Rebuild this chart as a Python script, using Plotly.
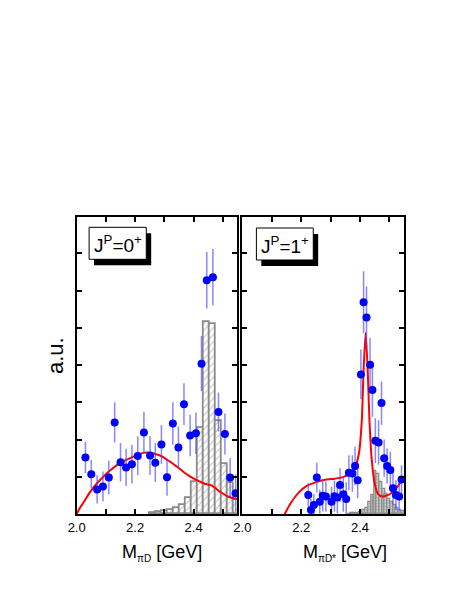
import plotly.graph_objects as go

W, H = 463, 599

# ---------------- data ----------------
left_x = [2.030, 2.050, 2.070, 2.090, 2.110, 2.130, 2.150, 2.169, 2.189, 2.209, 2.230, 2.251, 2.269,
          2.290, 2.309, 2.329, 2.348, 2.367, 2.388, 2.408, 2.427, 2.445, 2.466, 2.485, 2.507, 2.525, 2.544]
left_y = [1.52, 1.07, 0.66, 0.74, 0.98, 2.46, 1.39, 1.25, 1.34, 1.56, 2.19, 1.57, 1.38,
          1.87, 0.99, 2.43, 1.79, 2.95, 2.11, 2.17, 4.04, 6.28, 6.36, 2.74, 2.15, 0.98, 0.56]
left_err = [0.42, 0.38, 0.38, 0.40, 0.45, 0.54, 0.52, 0.50, 0.52, 0.52, 0.56, 0.52, 0.52,
            0.52, 0.50, 0.57, 0.56, 0.56, 0.56, 0.56, 0.74, 0.76, 0.76, 0.52, 0.55, 0.52, 0.50]

right_x = [2.224, 2.233, 2.243, 2.253, 2.263, 2.273, 2.284, 2.303, 2.313, 2.323, 2.332, 2.343, 2.353,
           2.362, 2.374, 2.383, 2.392, 2.403, 2.412, 2.422, 2.434, 2.442, 2.452, 2.463, 2.473, 2.482,
           2.492, 2.503, 2.512, 2.522, 2.533, 2.541]
right_y = [0.51, 0.11, 0.24, 0.98, 0.33, 0.49, 0.47, 0.33, 0.48, 0.44, 0.78, 0.53, 0.40,
           1.11, 1.09, 1.29, 0.91, 3.75, 5.69, 5.28, 4.01, 3.33, 1.97, 1.92, 2.98, 1.50,
           1.29, 1.18, 0.69, 0.51, 0.47, 0.93]
right_err = [0.32, 0.30, 0.30, 0.40, 0.32, 0.42, 0.40, 0.40, 0.42, 0.42, 0.45, 0.47, 0.45,
             0.47, 0.49, 0.52, 0.49, 0.67, 0.83, 0.83, 0.72, 0.72, 0.60, 0.60, 0.58, 0.50,
             0.47, 0.49, 0.45, 0.40, 0.40, 0.38]

left_hist_x = [2.261, 2.281, 2.302, 2.322, 2.343, 2.363, 2.384, 2.404, 2.425, 2.445, 2.466, 2.486,
               2.507, 2.527, 2.548]
left_hist_y = [0.035, 0.05, 0.08, 0.12, 0.16, 0.25, 0.43, 0.87, 2.32, 5.17, 5.10, 2.51, 1.34, 0.84, 0.38]
left_hist_w = 0.0205

right_hist_x = [2.363, 2.373, 2.382, 2.392, 2.403, 2.413, 2.423, 2.432, 2.442, 2.452, 2.462, 2.471,
                2.480, 2.489, 2.498, 2.508, 2.517, 2.526, 2.536, 2.547]
right_hist_y = [0.01, 0.015, 0.02, 0.03, 0.06, 0.10, 0.17, 0.31, 0.50, 1.16, 1.07, 0.85,
                0.67, 0.53, 0.40, 0.31, 0.23, 0.16, 0.12, 0.07]
right_hist_w = 0.0097

left_curve_x = [2.000, 2.010, 2.025, 2.047, 2.069, 2.091, 2.113, 2.147, 2.180, 2.213, 2.240, 2.283,
                2.317, 2.350, 2.383, 2.406, 2.430, 2.450, 2.461, 2.483, 2.517, 2.548]
left_curve_y = [0.00, 0.15, 0.33, 0.60, 0.82, 1.00, 1.16, 1.36, 1.49, 1.61, 1.65, 1.58,
                1.42, 1.23, 1.03, 0.93, 0.84, 0.79, 0.77, 0.64, 0.47, 0.40]

right_curve_x = [2.144, 2.164, 2.192, 2.220, 2.248, 2.281, 2.314, 2.342, 2.364, 2.383, 2.396, 2.406,
                 2.412, 2.419, 2.426, 2.432, 2.440, 2.450, 2.461, 2.476, 2.492, 2.509, 2.526, 2.548]
right_curve_y = [0.00, 0.29, 0.58, 0.76, 0.85, 0.92, 0.95, 0.99, 1.08, 1.26, 1.62, 2.51,
                 3.86, 4.87, 3.86, 2.51, 1.44, 0.81, 0.54, 0.47, 0.50, 0.58, 0.72, 0.99]

tick_vals = [2.0, 2.2, 2.4]
tick_text = ["2.0", "2.2", "2.4"]
y_tick_vals = [1, 2, 3, 4, 5, 6, 7]

# ---------------- figure ----------------
FONT = "Liberation Sans, Arial, Helvetica, sans-serif"
BLUE = "#0000ff"
ERRC = "rgba(70,70,255,0.65)"
RED = "#ff0000"
GRAY = "#8a8a8a"


def px(x):
    return x / W


def py(y):
    return 1 - y / H


fig = go.Figure()

fig.add_trace(go.Bar(x=left_hist_x, y=left_hist_y, width=[left_hist_w] * len(left_hist_x),
                     xaxis="x", yaxis="y",
                     marker=dict(color="white", line=dict(color=GRAY, width=1.8),
                                 pattern=dict(shape="/", fgcolor="#9a9a9a", bgcolor="white",
                                              size=5, solidity=0.25)),
                     showlegend=False, hoverinfo="skip"))
fig.add_trace(go.Bar(x=right_hist_x, y=right_hist_y, width=[right_hist_w] * len(right_hist_x),
                     xaxis="x2", yaxis="y2",
                     marker=dict(color="#c8c8c8", line=dict(color=GRAY, width=1.2),
                                 pattern=dict(shape="+", fgcolor="#7c7c7c", bgcolor="#d0d0d0",
                                              size=3, solidity=0.35)),
                     showlegend=False, hoverinfo="skip"))

fig.add_trace(go.Scatter(x=left_curve_x, y=left_curve_y, mode="lines", xaxis="x", yaxis="y",
                         line=dict(color=RED, width=2, shape="spline", smoothing=0.8),
                         showlegend=False, hoverinfo="skip"))
fig.add_trace(go.Scatter(x=right_curve_x, y=right_curve_y, mode="lines", xaxis="x2", yaxis="y2",
                         line=dict(color=RED, width=2, shape="spline", smoothing=0.6),
                         showlegend=False, hoverinfo="skip"))

for xs, ys, es, xa, ya in [(left_x, left_y, left_err, "x", "y"),
                           (right_x, right_y, right_err, "x2", "y2")]:
    fig.add_trace(go.Scatter(x=xs, y=ys, mode="markers", xaxis=xa, yaxis=ya,
                             marker=dict(color=BLUE, size=8, line=dict(width=0)),
                             error_y=dict(type="data", array=es, visible=True, color=ERRC,
                                          thickness=1.5, width=0),
                             showlegend=False, hoverinfo="skip"))

axis_common = dict(showline=True, linecolor="black", linewidth=2, mirror="ticks",
                   ticks="inside", ticklen=5, tickwidth=1.5, tickcolor="black",
                   showgrid=False, zeroline=False)

xdef = dict(range=[2.0, 2.55], tickmode="array", tickvals=tick_vals, ticktext=tick_text,
            tickfont=dict(family=FONT, size=13, color="black"),
            minor=dict(tick0=2.0, dtick=0.1, ticks="inside", ticklen=5, tickwidth=1.5,
                       tickcolor="black", showgrid=False),
            **axis_common)
ydef = dict(range=[0, 7.98], tickmode="array", tickvals=y_tick_vals, showticklabels=False,
            domain=[py(514), py(217)], **axis_common)

fig.update_layout(
    width=W, height=H, margin=dict(l=0, r=0, t=0, b=0),
    paper_bgcolor="white", plot_bgcolor="white",
    xaxis=dict(domain=[px(69), px(233)], anchor="y", **xdef),
    yaxis=dict(anchor="x", **ydef),
    xaxis2=dict(domain=[px(238), px(403)], anchor="y2", **xdef),
    yaxis2=dict(anchor="x2", **ydef),
    barmode="overlay", bargap=0,
    font=dict(family=FONT, color="black"),
)

shapes = []
annotations = []
for (bx0, by0, bx1, by1, label) in [(81.7, 227.3, 140.0, 259.3, "J<sup>P</sup>=0<sup>+</sup>"),
                                     (252.3, 228.0, 310.3, 260.0, "J<sup>P</sup>=1<sup>+</sup>")]:
    shapes.append(dict(type="rect", xref="paper", yref="paper",
                       x0=px(bx0 + 5), x1=px(bx1 + 5), y0=py(by1 + 6), y1=py(by0 + 6),
                       fillcolor="black", line=dict(width=0), layer="above"))
    shapes.append(dict(type="rect", xref="paper", yref="paper",
                       x0=px(bx0), x1=px(bx1), y0=py(by1), y1=py(by0),
                       fillcolor="white", line=dict(color="black", width=1), layer="above"))
    annotations.append(dict(x=px((bx0 + bx1) / 2), y=py((by0 + by1) / 2 + 1), xref="paper", yref="paper",
                            text=label, showarrow=False, xanchor="center", yanchor="middle",
                            font=dict(family=FONT, size=19, color="black")))

annotations.append(dict(x=px(113), y=py(553), xref="paper", yref="paper",
                        text="M<sub><span style='font-size:10px'>πD</span></sub> [GeV]",
                        showarrow=False, xanchor="left", yanchor="middle",
                        font=dict(family=FONT, size=18, color="black")))
annotations.append(dict(x=px(298), y=py(553), xref="paper", yref="paper",
                        text="M<sub><span style='font-size:10px'>πD*</span></sub> [GeV]",
                        showarrow=False, xanchor="left", yanchor="middle",
                        font=dict(family=FONT, size=18, color="black")))
annotations.append(dict(x=px(47), y=py(356), xref="paper", yref="paper",
                        text="a.u.", textangle=-90, showarrow=False,
                        xanchor="center", yanchor="middle",
                        font=dict(family=FONT, size=22, color="black")))

fig.update_layout(shapes=shapes, annotations=annotations)

fig.write_html("out.html", config={"displayModeBar": False},
               post_script="document.body.style.margin='0';"
                           "document.body.style.padding='0';"
                           "document.documentElement.style.overflow='hidden';")
